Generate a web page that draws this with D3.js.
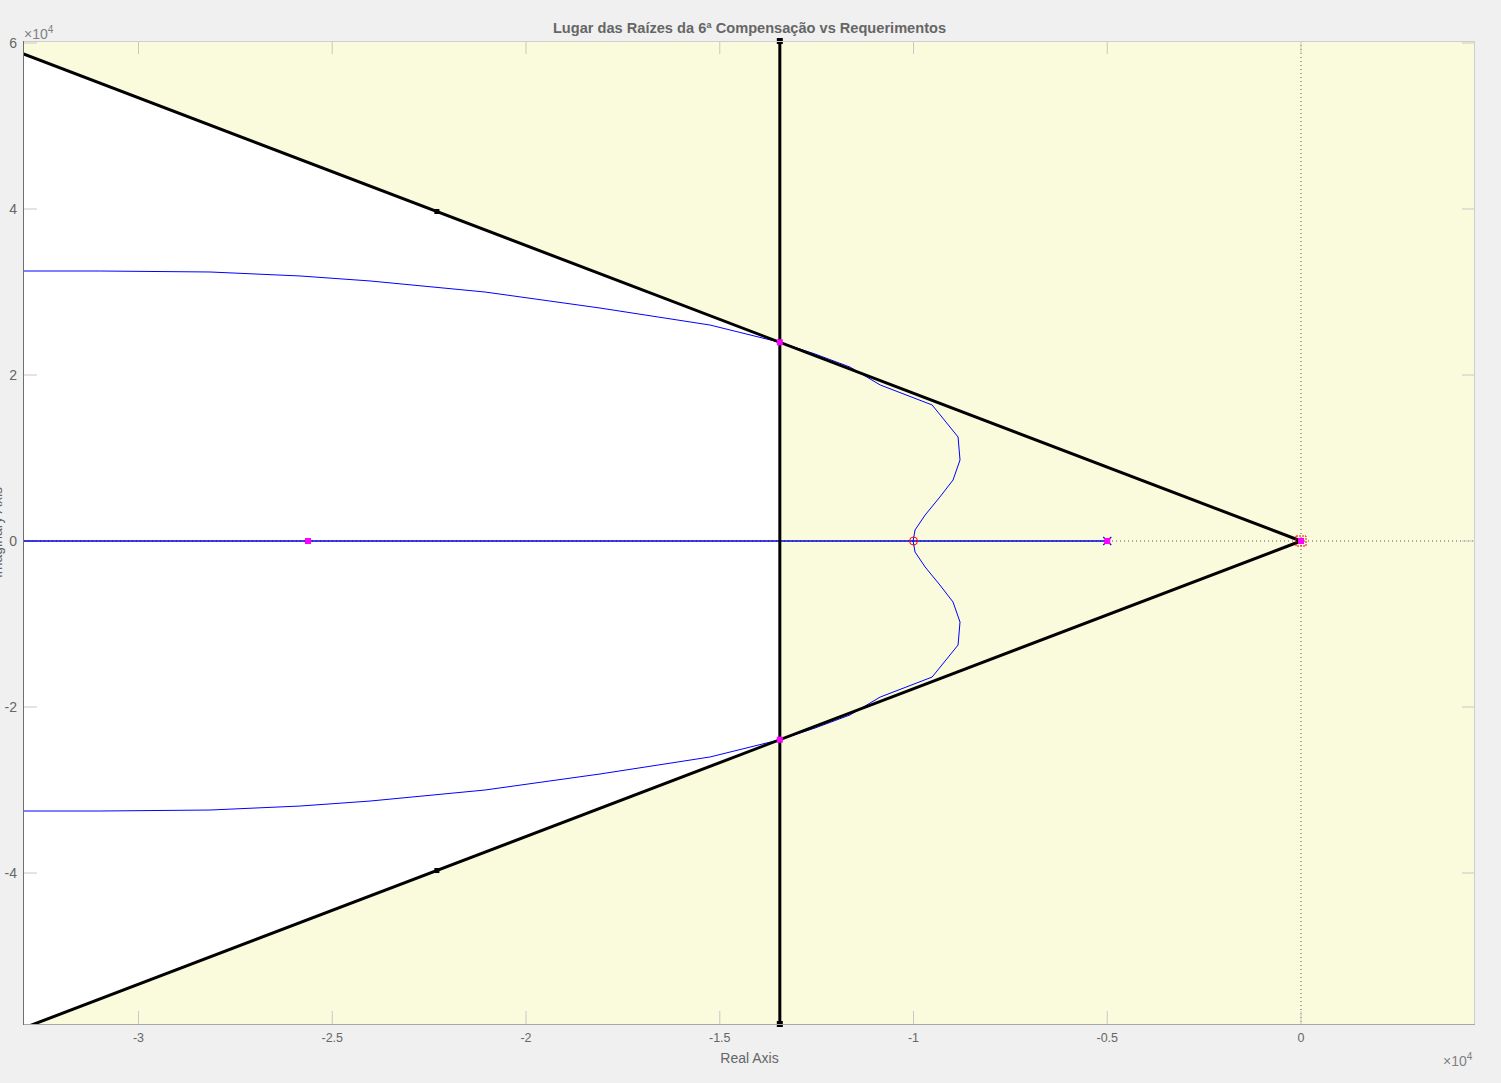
<!DOCTYPE html>
<html><head><meta charset="utf-8">
<script src="https://cdn.jsdelivr.net/npm/d3@7"></script>
<style>
body{margin:0;background:#f0f0f0;}
svg{display:block;font-family:"Liberation Sans",Arial,sans-serif;}
</style></head>
<body>
<svg id="chart" width="1501" height="1083"></svg>
<script>
// ---- data (units of 1e4) ----
const xTicks = [-3, -2.5, -2, -1.5, -1, -0.5, 0];
const yTicks = [-4, -2, 0, 2, 4, 6];
const xTickLabels = ["-3", "-2.5", "-2", "-1.5", "-1", "-0.5", "0"];
const yTickLabels = ["-4", "-2", "0", "2", "4", "6"];
const xLimits = [-3.2955, 0.449];
const yLimits = [-5.819, 6.024];

// root locus complex branches
const upperRe = [-3.2955, -3.099, -2.8155, -2.583, -2.4026, -2.106, -1.809, -1.525, -1.345, -1.254, -1.164, -1.086, -0.952, -0.885, -0.880, -0.898, -0.932, -0.970, -0.996, -1.001];
const upperIm = [3.253, 3.253, 3.241, 3.193, 3.133, 3.0, 2.807, 2.602, 2.394, 2.253, 2.096, 1.880, 1.639, 1.253, 0.976, 0.735, 0.530, 0.313, 0.133, 0];
const lowerRe = [-3.2955, -3.099, -2.8155, -2.583, -2.4026, -2.106, -1.809, -1.525, -1.345, -1.254, -1.164, -1.086, -0.952, -0.885, -0.880, -0.898, -0.932, -0.970, -0.996, -1.001];
const lowerIm = [-3.253, -3.253, -3.241, -3.193, -3.133, -3.0, -2.807, -2.602, -2.394, -2.253, -2.096, -1.880, -1.639, -1.253, -0.976, -0.735, -0.530, -0.313, -0.133, 0];
// real-axis branch
const realBranchRe = [-3.2955, -0.5];
const realBranchIm = [0, 0];

// requirements
const sigmaReq = -1.345;          // settling-time boundary
const dampSlope = 1.78;           // |Im|/|Re| of damping boundary
const coneEndRe = [-4.0, -4.0];
const coneEndIm = [7.12, -7.12];
const coneMarkRe = [-2.23, -2.23];
const coneMarkIm = [3.97, -3.97];

// markers
const clPolesRe = [-1.345, -1.345, -2.5626, -0.5, 0];
const clPolesIm = [2.394, -2.394, 0, 0, 0];
const olPolesRe = [-0.5];
const olPolesIm = [0];
const originPoleRe = [0];
const originPoleIm = [0];
const zerosRe = [-1.0];
const zerosIm = [0];

const title = "Lugar das Raízes da 6ª Compensação vs Requerimentos";

// ---- layout ----
const L = 24, R = 1475, T = 41, B = 1024;
const svg = d3.select("#chart");
const x = d3.scaleLinear().domain(xLimits).range([L, R]);
const y = d3.scaleLinear().domain(yLimits).range([B, T]);

svg.append("defs").append("clipPath").attr("id", "clip")
  .append("rect").attr("x", L).attr("y", T).attr("width", R - L).attr("height", B - T);

// plot background (yellow = not satisfying)
svg.append("rect").attr("x", L).attr("y", T).attr("width", R - L).attr("height", B - T)
  .attr("fill", "#fafadc");

const g = svg.append("g").attr("clip-path", "url(#clip)");

// white region: satisfying both requirements
const whitePoly = [
  [sigmaReq, dampSlope * -sigmaReq],
  [coneEndRe[0], coneEndIm[0]],
  [coneEndRe[1], coneEndIm[1]],
  [sigmaReq, -dampSlope * -sigmaReq]
];
g.append("polygon")
  .attr("points", whitePoly.map(p => [x(p[0]), y(p[1])].join(",")).join(" "))
  .attr("fill", "#ffffff");

// dotted axes through origin
g.append("line").attr("x1", L).attr("x2", R).attr("y1", y(0)).attr("y2", y(0))
  .attr("stroke", "#555").attr("stroke-width", 1).attr("stroke-dasharray", "1,3");
g.append("line").attr("x1", x(0)).attr("x2", x(0)).attr("y1", T).attr("y2", B)
  .attr("stroke", "#555").attr("stroke-width", 1).attr("stroke-dasharray", "1,3");

// ticks (inside, all four sides)
const tickLen = 13, tickCol = "#c8c8c8";
xTicks.forEach(v => {
  g.append("line").attr("x1", x(v)).attr("x2", x(v)).attr("y1", B).attr("y2", B - tickLen).attr("stroke", tickCol);
  g.append("line").attr("x1", x(v)).attr("x2", x(v)).attr("y1", T).attr("y2", T + tickLen).attr("stroke", tickCol);
});
yTicks.forEach(v => {
  g.append("line").attr("x1", L).attr("x2", L + tickLen).attr("y1", y(v)).attr("y2", y(v)).attr("stroke", tickCol);
  g.append("line").attr("x1", R).attr("x2", R - tickLen).attr("y1", y(v)).attr("y2", y(v)).attr("stroke", tickCol);
});

const line = d3.line().x(d => x(d[0])).y(d => y(d[1]));

// root locus
g.append("path").datum(realBranchRe.map((r, i) => [r, realBranchIm[i]]))
  .attr("d", line).attr("fill", "none").attr("stroke", "#0000e0").attr("stroke-width", 1.3);
g.append("path").datum(upperRe.map((r, i) => [r, upperIm[i]]))
  .attr("d", line).attr("fill", "none").attr("stroke", "#0000ff").attr("stroke-width", 1);
g.append("path").datum(lowerRe.map((r, i) => [r, lowerIm[i]]))
  .attr("d", line).attr("fill", "none").attr("stroke", "#0000ff").attr("stroke-width", 1);

// requirement lines
g.append("line").attr("x1", x(0)).attr("y1", y(0)).attr("x2", x(coneEndRe[0])).attr("y2", y(coneEndIm[0]))
  .attr("stroke", "#000").attr("stroke-width", 3);
g.append("line").attr("x1", x(0)).attr("y1", y(0)).attr("x2", x(coneEndRe[1])).attr("y2", y(coneEndIm[1]))
  .attr("stroke", "#000").attr("stroke-width", 3);
g.append("line").attr("x1", x(sigmaReq)).attr("x2", x(sigmaReq)).attr("y1", T).attr("y2", B)
  .attr("stroke", "#000").attr("stroke-width", 3);

// black markers on requirement lines
const blk = coneMarkRe.map((r, i) => [r, coneMarkIm[i]]);
blk.forEach(p => g.append("rect").attr("x", x(p[0]) - 2.5).attr("y", y(p[1]) - 2.5).attr("width", 5).attr("height", 5).attr("fill", "#000"));
[yLimits[1], yLimits[0]].forEach(v => svg.append("rect").attr("x", x(sigmaReq) - 3).attr("y", y(v) - 3).attr("width", 6).attr("height", 6).attr("fill", "#000"));

// zero
zerosRe.forEach((r, i) => g.append("circle").attr("cx", x(r)).attr("cy", y(zerosIm[i])).attr("r", 4)
  .attr("fill", "none").attr("stroke", "#ff0000").attr("stroke-width", 1));

// open-loop poles (x)
olPolesRe.forEach((r, i) => {
  const cx = x(r), cy = y(olPolesIm[i]), s = 4;
  g.append("path").attr("d", `M${cx - s},${cy - s}L${cx + s},${cy + s}M${cx - s},${cy + s}L${cx + s},${cy - s}`)
    .attr("stroke", "#0000ff").attr("stroke-width", 1.2);
});
originPoleRe.forEach((r, i) => {
  const cx = x(r), cy = y(originPoleIm[i]);
  g.append("rect").attr("x", cx - 5).attr("y", cy - 5).attr("width", 10).attr("height", 10)
    .attr("fill", "none").attr("stroke", "#ff0000").attr("stroke-width", 1).attr("stroke-dasharray", "2,1");
});

// closed-loop poles (magenta squares)
clPolesRe.forEach((r, i) => g.append("rect").attr("x", x(r) - 3).attr("y", y(clPolesIm[i]) - 3)
  .attr("width", 6).attr("height", 6).attr("fill", "#ff00ff"));

// axes box
svg.append("line").attr("x1", L).attr("x2", R).attr("y1", T + 0.5).attr("y2", T + 0.5).attr("stroke", "#cfcfcf");
svg.append("line").attr("x1", R - 0.5).attr("x2", R - 0.5).attr("y1", T).attr("y2", B).attr("stroke", "#cfcfcf");
svg.append("line").attr("x1", L).attr("x2", R).attr("y1", B + 0.5).attr("y2", B + 0.5).attr("stroke", "#a8a8a8");
svg.append("line").attr("x1", L - 0.5).attr("x2", L - 0.5).attr("y1", T).attr("y2", B + 1).attr("stroke", "#6e6e6e");

// tick labels
const labCol = "#666666";
svg.selectAll(".xt").data(xTicks).enter().append("text")
  .attr("x", d => x(d)).attr("y", B + 18).attr("text-anchor", "middle")
  .attr("font-size", 12.5).attr("fill", labCol).text((d, i) => xTickLabels[i]);
svg.selectAll(".yt").data(yTicks).enter().append("text")
  .attr("x", L - 7).attr("y", d => y(d) + 5).attr("text-anchor", "end")
  .attr("font-size", 14).attr("fill", labCol).text((d, i) => yTickLabels[i]);

// exponent labels
function expLabel(px, py) {
  const t = svg.append("text").attr("x", px).attr("y", py).attr("fill", "#808080").attr("font-size", 14);
  t.append("tspan").text("×10");
  t.append("tspan").attr("dy", -6).attr("font-size", 10).text("4");
}
expLabel(L, 39);
expLabel(1443, 1066);

// axis labels & title
svg.append("text").attr("x", (L + R) / 2).attr("y", 1063).attr("text-anchor", "middle")
  .attr("font-size", 14).attr("fill", "#666").text("Real Axis");
svg.append("text").attr("transform", `translate(2,${(T + B) / 2}) rotate(-90)`).attr("text-anchor", "middle")
  .attr("font-size", 14).attr("fill", "#666").text("Imaginary Axis");
svg.append("text").attr("x", (L + R) / 2).attr("y", 33).attr("text-anchor", "middle")
  .attr("font-size", 14.6).attr("font-weight", "bold").attr("fill", "#666").text(title);
</script>
</body></html>
